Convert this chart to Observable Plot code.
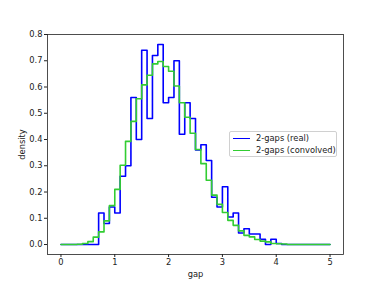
<!DOCTYPE html>
<html>
<head>
<meta charset="utf-8">
<script src="https://cdn.jsdelivr.net/npm/d3@7"></script>
<script src="https://cdn.jsdelivr.net/npm/@observablehq/plot@0.6"></script>
<style>
  html, body { margin: 0; padding: 0; background: #fff; }
  #wrap { position: relative; width: 381px; height: 286px; font-family: "DejaVu Sans", sans-serif; }
  #legend {
    position: absolute; left: 229px; top: 131px; width: 108px; height: 26px;
    border: 1px solid #d0d0d0; border-radius: 2px; background: rgba(255,255,255,0.8);
    font-size: 8.3px; color: #222; box-sizing: border-box;
  }
  .item { position: absolute; left: 3px; height: 10px; display: flex; align-items: center; white-space: nowrap; }
  .swatch { width: 17px; height: 0; border-top: 1.5px solid; margin-right: 6px; }
</style>
</head>
<body>
<div id="wrap">
  <div id="chart"></div>
  <div id="legend">
    <div class="item" style="top:1px"><span class="swatch" style="border-color:#0000ff"></span>2-gaps (real)</div>
    <div class="item" style="top:13px"><span class="swatch" style="border-color:#32cd32"></span>2-gaps (convolved)</div>
  </div>
</div>
<script>
// bin edges (gap)
const binEdges = [0.0,0.1,0.2,0.3,0.4,0.5,0.6,0.7,0.8,0.9,1.0,1.1,1.2,1.3,1.4,1.5,1.6,1.7,1.8,1.9,2.0,2.1,2.2,2.3,2.4,2.5,2.6,2.7,2.8,2.9,3.0,3.1,3.2,3.3,3.4,3.5,3.6,3.7,3.8,3.9,4.0,4.1,4.2,4.3,4.4,4.5,4.6,4.7,4.8,4.9,5.0];
// density per bin, 2-gaps (real)
const realDensity = [0,0,0,0,0,0,0,0.12,0.08,0.143,0.12,0.26,0.30,0.56,0.40,0.74,0.48,0.72,0.762,0.54,0.56,0.70,0.42,0.54,0.48,0.36,0.38,0.32,0.18,0.143,0.22,0.105,0.12,0.044,0.06,0.04,0.04,0.02,0.0,0.02,0.004,0,0,0,0,0,0,0,0,0];
// density per bin, 2-gaps (convolved)
const convDensity = [0,0,0,0.001,0.004,0.011,0.028,0.048,0.09,0.148,0.21,0.302,0.393,0.469,0.555,0.608,0.645,0.688,0.697,0.678,0.66,0.604,0.54,0.485,0.424,0.362,0.308,0.245,0.188,0.153,0.122,0.092,0.073,0.052,0.035,0.029,0.019,0.013,0.01,0.004,0.003,0.002,0,0,0,0,0,0,0,0];
const xTicks = [0,1,2,3,4,5];
const yTicks = [0,0.1,0.2,0.3,0.4,0.5,0.6,0.7,0.8];

function steps(vals) {
  const pts = vals.map((v, i) => ({x: binEdges[i], y: v}));
  pts.push({x: binEdges[binEdges.length - 1], y: vals[vals.length - 1]});
  return pts;
}

const chart = Plot.plot({
  width: 381, height: 286,
  marginLeft: 47, marginRight: 38, marginTop: 34, marginBottom: 32,
  style: {fontFamily: "DejaVu Sans, sans-serif", fontSize: "8.3px", color: "#222", background: "#fff"},
  x: {domain: [-0.25, 5.25]},
  y: {domain: [-0.038, 0.8]},
  marks: [
    Plot.line(steps(realDensity), {x: "x", y: "y", curve: "step-after", stroke: "#0000ff", strokeWidth: 1.6}),
    Plot.line(steps(convDensity), {x: "x", y: "y", curve: "step-after", stroke: "#32cd32", strokeWidth: 1.6}),
    Plot.frame({stroke: "#222", strokeWidth: 0.8}),
    Plot.axisX({ticks: xTicks, tickSize: 3, tickPadding: 2, tickFormat: d3.format("d"), label: "gap", labelAnchor: "center", labelArrow: "none", labelOffset: 22, fontSize: 8.3}),
    Plot.axisY({ticks: yTicks, tickSize: 3, tickPadding: 2, tickFormat: d3.format(".1f"), label: "density", labelAnchor: "center", labelArrow: "none", labelOffset: 28, fontSize: 8.3})
  ]
});
document.getElementById("chart").appendChild(chart);
</script>
</body>
</html>
